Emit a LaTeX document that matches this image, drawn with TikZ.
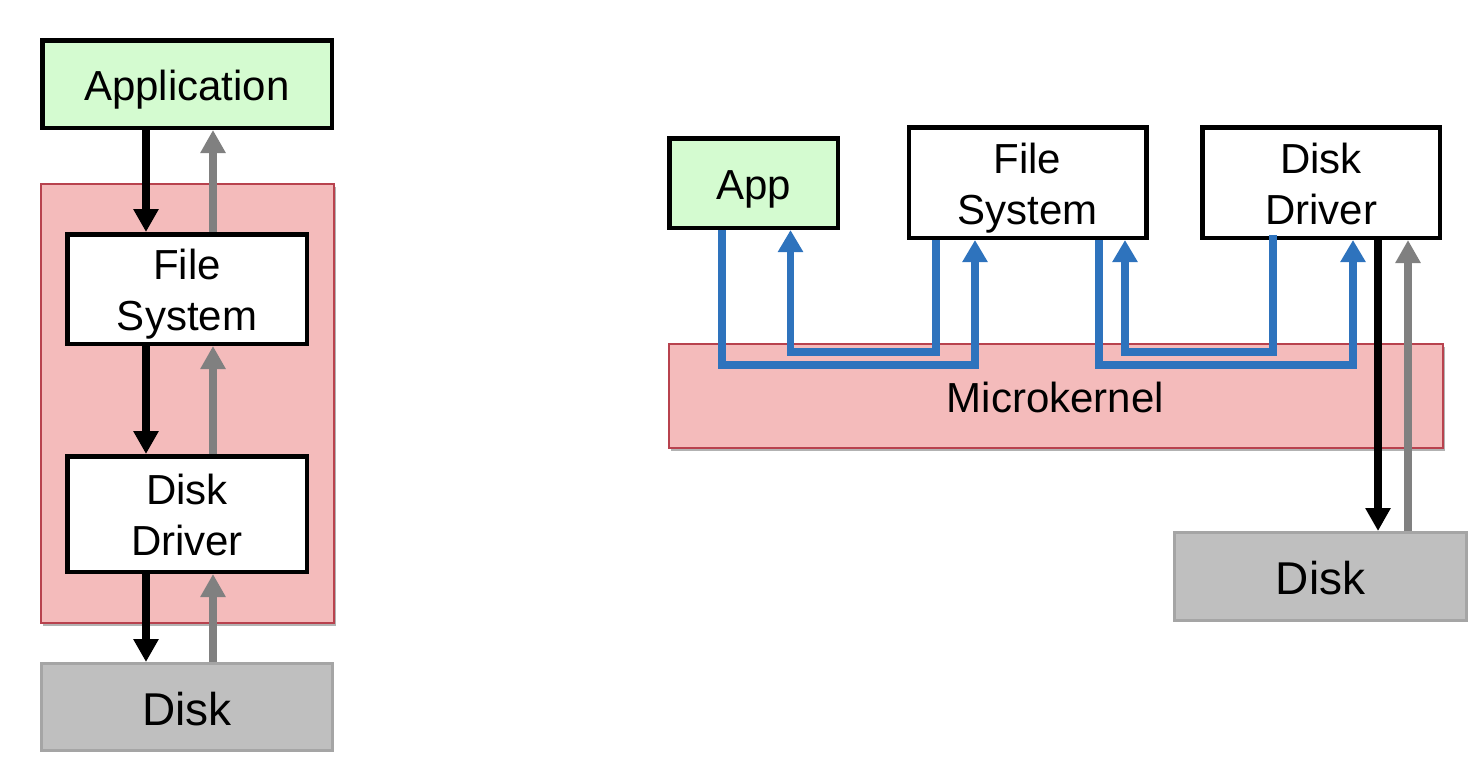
\documentclass[tikz,border=0pt]{standalone}
\usepackage{fontspec}
\setmainfont{Liberation Sans}
\usetikzlibrary{arrows.meta,shadows}
\definecolor{appgreen}{RGB}{212,251,208}
\definecolor{kernred}{RGB}{244,187,187}
\definecolor{kernborder}{RGB}{184,66,78}
\definecolor{diskgray}{RGB}{191,191,191}
\definecolor{diskborder}{RGB}{165,165,165}
\definecolor{retgray}{RGB}{128,128,128}
\definecolor{ipcblue}{RGB}{46,115,189}
\tikzset{
  box/.style={draw=black, line width=4.5pt, fill=white, inner sep=0pt, align=center,
    font=\fontsize{42}{51}\selectfont},
  oneline/.style={text height=33pt, text depth=0pt},
  twoline/.style={text height=83pt, text depth=0pt},
  appbox/.style={box, fill=appgreen},
  diskbox/.style={draw=diskborder, line width=3pt, fill=diskgray, inner sep=0pt,
    font=\fontsize{46}{52}\selectfont, text height=36pt, text depth=0pt},
  kernbox/.style={draw=kernborder, line width=2pt, fill=kernred, inner sep=0pt,
    font=\fontsize{42}{51}\selectfont,
    drop shadow={shadow xshift=2pt, shadow yshift=-3pt, opacity=0.3, fill=black}},
  downarrow/.style={draw=black, line width=8.5pt, -{Triangle[width=24pt,length=23pt]}},
  uparrow/.style={draw=retgray, line width=8pt, -{Triangle[width=24pt,length=23pt]}},
  ipc/.style={draw=ipcblue, line width=7.5pt, line join=miter, -{Triangle[width=24pt,length=22pt]}},
}
\begin{document}
\begin{tikzpicture}[x=1pt,y=-1pt]
\useasboundingbox (0,0) rectangle (1482,772);
% ---------- left: monolithic ----------
\node[kernbox, minimum width=293pt, minimum height=439pt] (kern) at (187,403) {};
\node[appbox, oneline, minimum width=289.5pt, minimum height=87.5pt] (app) at (187,84) {Application};
\node[box, twoline, minimum width=239.5pt, minimum height=109.5pt] (fs) at (187,289) {File\\System};
\node[box, twoline, minimum width=239.5pt, minimum height=115.5pt] (dd) at (187,514) {Disk\\Driver};
\node[diskbox, minimum width=291pt, minimum height=87pt] (disk) at (187,707) {Disk};
\draw[downarrow] ([xshift=-41pt]app.south) -- ([xshift=-41pt]fs.north);
\draw[uparrow] ([xshift=26pt]fs.north) -- ([xshift=26pt]app.south);
\draw[downarrow] ([xshift=-41pt]fs.south) -- ([xshift=-41pt]dd.north);
\draw[uparrow] ([xshift=26pt]dd.north) -- ([xshift=26pt]fs.south);
\draw[downarrow] ([xshift=-41pt]dd.south) -- ([xshift=-41pt]disk.north);
\draw[uparrow] ([xshift=26pt]disk.north) -- ([xshift=26pt]dd.south);
% ---------- right: microkernel ----------
\node[kernbox, text height=33pt, text depth=0pt, minimum width=774pt, minimum height=104pt] (mk) at (1055.5,395.5) {Microkernel};
\node[appbox, oneline, minimum width=168.5pt, minimum height=89.5pt] (app2) at (753.5,183) {App};
\node[box, twoline, minimum width=237.5pt, minimum height=110.5pt] (fs2) at (1027.5,182.5) {File\\System};
\node[box, twoline, minimum width=237.5pt, minimum height=110.5pt] (dd2) at (1321,182.5) {Disk\\Driver};
\node[diskbox, minimum width=292pt, minimum height=88pt] (disk2) at (1320.5,576.5) {Disk};
\coordinate (c1) at (975,365);
\coordinate (c2) at (790.5,352);
\coordinate (c3) at (1353,365);
\coordinate (c4) at (1125,352);
\draw[ipc] ([xshift=-31.5pt]app2.south) |- (c1) -- ([xshift=-52.5pt]fs2.south);
\draw[ipc] ([xshift=-91.5pt]fs2.south) |- (c2) -- ([xshift=37pt]app2.south);
\draw[ipc] ([xshift=71.5pt]fs2.south) |- (c3) -- ([xshift=32pt]dd2.south);
\draw[ipc] ([xshift=-48pt,yshift=5pt]dd2.south) |- (c4) -- ([xshift=97.5pt]fs2.south);
\draw[downarrow] ([xshift=57pt]dd2.south) -- ([xshift=57.5pt]disk2.north);
\draw[uparrow] ([xshift=87.5pt]disk2.north) -- ([xshift=87pt]dd2.south);
\end{tikzpicture}
\end{document}
